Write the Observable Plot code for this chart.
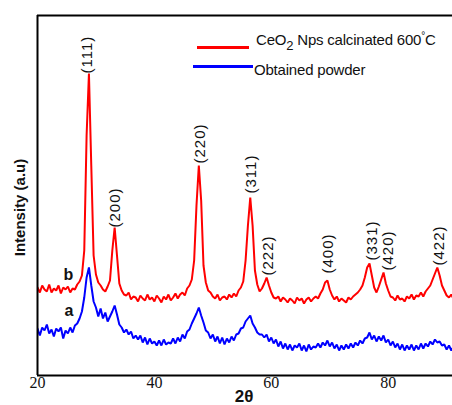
<!DOCTYPE html>
<html>
<head>
<meta charset="utf-8">
<script src="https://cdn.jsdelivr.net/npm/d3@7"></script>
<script src="https://cdn.jsdelivr.net/npm/@observablehq/plot@0.6"></script>
<style>
  html, body { margin: 0; padding: 0; background: #fff; }
  #wrap { position: relative; width: 452px; height: 405px; overflow: hidden; }
  .lg-line { position: absolute; height: 3px; }
  .lg-text { position: absolute; font-family: "Liberation Sans", Arial, sans-serif; font-size: 15px; line-height: 15px; color: #111; white-space: nowrap; letter-spacing: -0.2px; }
  .lg-text sub { font-size: 13px; vertical-align: -5px; line-height: 0; }
  .lg-text sup { font-size: 10px; vertical-align: 6px; line-height: 0; }
</style>
</head>
<body>
<div id="wrap"></div>
<script>
// ---- data (2θ sampled every 0.4° from 20°) ----
const thetaStart = 20;
const thetaStep = 0.4;

// b: CeO2 Nps calcinated 600°C (offset trace)
const redIntensity = [
  88,83,90,86,84,91,83,87,85,90, 82,88,86,89,83,87,86,91,94,100,
  125,240,302,210,120,101,93,90,86,84, 89,95,125,148,120,92,85,81,80,83,
  76,79,78,74,80,77,75,81,76,78, 74,80,77,73,79,76,81,75,78,82,
  77,81,83,80,87,90,96,115,170,210, 175,110,93,85,83,79,77,81,75,78,
  79,76,81,78,82,79,85,88,94,115, 150,178,150,105,91,84,87,92,98,90,
  83,78,77,79,74,78,76,73,77,75, 72,78,75,77,72,76,78,74,77,79,
  77,82,86,93,95,86,80,76,79,74, 77,75,73,78,76,79,81,83,86,90,
  98,108,112,100,88,83,89,96,103,92, 85,79,78,75,80,76,77,74,79,77,
  81,76,80,79,83,79,84,87,90,96, 102,108,100,90,85,80,78,81,76
];

// a: Obtained powder
const blueIntensity = [
  47,40,48,45,51,42,46,39,47,44, 48,37,45,42,48,43,50,52,57,64,
  78,98,108,90,74,68,59,67,57,63, 54,59,64,70,61,51,48,43,46,41,
  44,37,40,36,40,33,38,31,37,32, 34,30,35,30,36,31,33,32,37,32,
  38,34,41,37,44,46,52,57,62,68, 60,53,45,43,37,41,34,39,32,38,
  31,37,33,39,35,41,42,47,48,54, 57,60,52,48,43,41,41,38,41,34,
  38,32,36,29,34,27,32,26,31,25, 30,28,32,25,30,24,31,26,29,28,
  32,28,33,30,35,29,33,27,31,25, 30,26,31,27,32,28,33,30,35,32,
  37,38,43,36,40,34,39,35,40,33, 36,30,34,28,32,26,31,25,30,26,
  31,25,30,26,32,27,32,29,34,31, 36,33,34,30,31,26,30,25,29
];

// Miller-index peak labels (placed at the top of each red peak)
const hkl = ["(111)", "(200)", "(220)", "(311)", "(222)", "(400)", "(331)", "(420)", "(422)"];
const hklTheta = [28.55, 33.35, 47.9, 56.6, 59.5, 69.8, 77.3, 80.0, 88.8];
const hklIntensity = [302, 148, 212, 182, 100, 102, 115, 105, 110];

// trace letters
const traceNames = ["b", "a"];
const traceTheta = [25.3, 25.4];
const traceIntensity = [101, 65];

const xTicks = [20, 40, 60, 80];
const xDomain = [20, 91];
const yDomain = [0, 360];

// ---- build tables ----
const red = redIntensity.map((v, i) => ({theta: thetaStart + thetaStep * i, intensity: v}));
const blue = blueIntensity.map((v, i) => ({theta: thetaStart + thetaStep * i, intensity: v}));
const peaks = hkl.map((t, i) => ({label: t, theta: hklTheta[i], intensity: hklIntensity[i]}));
const traces = traceNames.map((t, i) => ({label: t, theta: traceTheta[i], intensity: traceIntensity[i]}));

const chart = Plot.plot({
  width: 452,
  height: 405,
  marginLeft: 37,
  marginRight: 0,
  marginTop: 15,
  marginBottom: 30,
  x: {domain: xDomain, axis: null},
  y: {domain: yDomain, axis: null},
  style: {background: "#fff", fontFamily: "'Liberation Sans', Arial, sans-serif", color: "#111"},
  marks: [
    Plot.line(blue, {x: "theta", y: "intensity", stroke: "#0000ff", strokeWidth: 2, strokeLinejoin: "miter", clip: true}),
    Plot.line(red, {x: "theta", y: "intensity", stroke: "#ff0000", strokeWidth: 2, strokeLinejoin: "miter", clip: true}),
    Plot.text(peaks, {x: "theta", y: "intensity", text: "label", rotate: -90, textAnchor: "start",
      fontSize: 15, fill: "#111"}),
    Plot.text(traces, {x: "theta", y: "intensity", text: "label", fontSize: 16, fontWeight: "bold", fill: "#111"}),
    Plot.ruleX([xDomain[0]], {stroke: "#000", strokeWidth: 2}),
    Plot.ruleY(yDomain, {stroke: "#000", strokeWidth: 2}),
    Plot.axisX({ticks: xTicks, tickSize: 0, tickPadding: 1, label: null, fontSize: 16,
      fontFamily: "'Liberation Serif', 'Times New Roman', serif"}),
    Plot.text(["2θ"], {frameAnchor: "bottom", dy: 26, dx: -1, fontSize: 17, fontWeight: "bold", fill: "#111"}),
    Plot.text(["Intensity (a.u)"], {frameAnchor: "left", rotate: -90, textAnchor: "middle", dx: -17, dy: 12,
      fontSize: 15, fontWeight: "bold", fill: "#111"})
  ]
});

d3.select(chart).selectAll("text").filter(function() {
  return this.textContent.startsWith("(");
}).style("letter-spacing", "1px");
d3.select(chart).selectAll("g[aria-label='x-axis tick label'] text")
  .style("font-family", "'Liberation Serif', 'Times New Roman', serif").style("font-size", "16px");

const wrap = document.getElementById("wrap");
wrap.appendChild(chart);

// legend overlay (inside plot area, top right)
const legend = [
  {color: "#ff0000", lineLeft: 197, lineWidth: 52, lineTop: 46, textLeft: 256, textTop: 32,
   html: "CeO<sub>2</sub> Nps calcinated 600<sup>°</sup>C"},
  {color: "#0000ff", lineLeft: 193, lineWidth: 60, lineTop: 65, textLeft: 254, textTop: 62,
   html: "Obtained powder"}
];
for (const l of legend) {
  const ln = document.createElement("div");
  ln.className = "lg-line";
  ln.style.left = l.lineLeft + "px";
  ln.style.top = l.lineTop + "px";
  ln.style.width = l.lineWidth + "px";
  ln.style.background = l.color;
  wrap.appendChild(ln);
  const tx = document.createElement("div");
  tx.className = "lg-text";
  tx.style.left = l.textLeft + "px";
  tx.style.top = l.textTop + "px";
  tx.innerHTML = l.html;
  wrap.appendChild(tx);
}
</script>
</body>
</html>
